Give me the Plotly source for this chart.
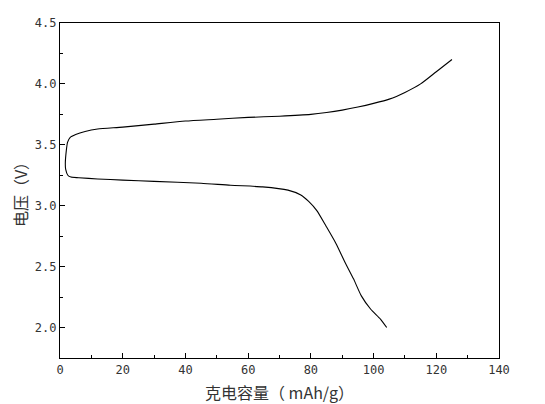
import plotly.graph_objects as go

# discharge branch (104 -> loop) then charge branch (loop -> 125)
capacity = [
    104.2, 102.2, 99.1, 96.1, 93.6, 91.0, 88.0, 84.9, 81.9, 79.3, 76.8, 72.7,
    64.6, 54.4, 45.0, 30.0, 20.0, 12.0, 6.0, 3.5, 2.5, 1.8, 1.7, 2.0, 2.4,
    3.2, 5.0, 8.0, 12.0, 20.0, 30.0, 40.0, 50.0, 60.0, 70.0, 80.0, 85.0,
    90.0, 95.0, 100.0, 105.0, 110.0, 115.0, 120.0, 125.0,
]
voltage = [
    2.00, 2.07, 2.15, 2.26, 2.40, 2.53, 2.69, 2.83, 2.96, 3.035, 3.088, 3.128,
    3.155, 3.168, 3.185, 3.200, 3.210, 3.220, 3.230, 3.235, 3.25, 3.30, 3.35,
    3.45, 3.52, 3.56, 3.585, 3.61, 3.63, 3.645, 3.67, 3.695, 3.71, 3.725,
    3.735, 3.75, 3.765, 3.785, 3.81, 3.84, 3.875, 3.93, 4.00, 4.10, 4.20,
]

x_title = "克电容量（ mAh/g）"
y_title = "电压（V）"

fig = go.Figure()
fig.add_trace(go.Scatter(
    x=capacity, y=voltage, mode="lines",
    line=dict(color="black", width=1.1, shape="spline", smoothing=0.6),
    showlegend=False,
))

tick_font = dict(family="DejaVu Sans Mono, monospace", size=12, color="#333")
title_font = dict(family="Noto Sans CJK SC", size=16, color="#333")

fig.update_xaxes(
    range=[0, 140], dtick=20, tickformat="d",
    ticks="inside", ticklen=5, tickcolor="black",
    minor=dict(dtick=10, ticks="inside", ticklen=3, tickcolor="black"),
    showline=True, linecolor="black", linewidth=1.2, mirror=True,
    showgrid=False, zeroline=False, tickfont=tick_font,
    title=dict(text=x_title, font=title_font, standoff=12),
)
fig.update_yaxes(
    range=[1.75, 4.5], dtick=0.5, tickformat=".1f",
    ticks="inside", ticklen=5, tickcolor="black",
    minor=dict(dtick=0.25, ticks="inside", ticklen=3, tickcolor="black"),
    showline=True, linecolor="black", linewidth=1.2, mirror=True,
    showgrid=False, zeroline=False, tickfont=tick_font,
    title=dict(text=y_title, font=title_font, standoff=6),
)
fig.update_layout(
    width=545, height=404,
    margin=dict(l=52, r=54, t=8, b=54),
    plot_bgcolor="white", paper_bgcolor="white",
)
fig.write_html("out.html")
